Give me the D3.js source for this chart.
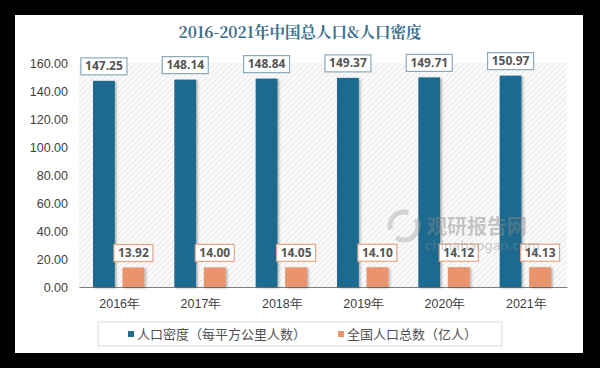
<!DOCTYPE html>
<html>
<head>
<meta charset="utf-8">
<script src="https://cdn.jsdelivr.net/npm/d3@7"></script>
<style>
  body { margin: 0; background: #000; }
  svg { display: block; }
  .tick text { font-family: 'Liberation Sans', 'Noto Sans', sans-serif; fill: #404040; }
</style>
</head>
<body>
<svg width="600" height="368"></svg>
<script>
const years = ['2016年', '2017年', '2018年', '2019年', '2020年', '2021年'];
const density = [147.25, 148.14, 148.84, 149.37, 149.71, 150.97];
const population = [13.92, 14.00, 14.05, 14.10, 14.12, 14.13];
const yTicks = [0, 20, 40, 60, 80, 100, 120, 140, 160];
const seriesNames = ['人口密度（每平方公里人数）', '全国人口总数（亿人）'];

const svg = d3.select('svg');
const width = +svg.attr('width');
const height = +svg.attr('height');

const blue = '#1f6b8f';
const orange = '#e9946c';

// white panel
svg.append('rect')
    .attr('x', 15).attr('y', 15)
    .attr('width', 568).attr('height', 338)
    .attr('fill', '#fff');

const defs = svg.append('defs');
const pat = defs.append('pattern')
    .attr('id', 'hatch')
    .attr('patternUnits', 'userSpaceOnUse')
    .attr('width', 4).attr('height', 4)
    .attr('patternTransform', 'rotate(45)');
pat.append('rect').attr('width', 4).attr('height', 4).attr('fill', '#fafafa');
pat.append('line').attr('x1', 0).attr('y1', 0).attr('x2', 0).attr('y2', 4)
    .attr('stroke', '#dedede').attr('stroke-width', 1.2);

const shadow = defs.append('filter').attr('id', 'shadow')
    .attr('x', '-30%').attr('y', '-10%').attr('width', '160%').attr('height', '130%');
shadow.append('feDropShadow')
    .attr('dx', 1.5).attr('dy', 1).attr('stdDeviation', 1.2)
    .attr('flood-color', '#000').attr('flood-opacity', 0.3);

const margin = { top: 63, left: 79, right: 33, bottom: 81 };
const innerWidth = width - margin.left - margin.right;
const innerHeight = height - margin.top - margin.bottom;

const g = svg.append('g')
    .attr('transform', `translate(${margin.left}, ${margin.top})`);

g.append('rect')
    .attr('width', innerWidth).attr('height', innerHeight)
    .attr('fill', 'url(#hatch)');

const xScale = d3.scaleBand()
    .domain(years)
    .range([0, innerWidth]);

const yScale = d3.scaleLinear()
    .domain([0, 160])
    .range([innerHeight, 0]);

const inner = d3.scaleBand()
    .domain([0, 1])
    .range([14, xScale.bandwidth() - 16])
    .paddingInner(0.26);

// y axis
const yAxisG = g.append('g')
    .call(d3.axisLeft(yScale).tickValues(yTicks).tickFormat(d3.format('.2f')).tickSize(0).tickPadding(11));
yAxisG.select('.domain').remove();
yAxisG.selectAll('text').attr('font-size', 12.5);

// x axis
const xAxisG = g.append('g')
    .attr('transform', `translate(0, ${innerHeight})`)
    .call(d3.axisBottom(xScale).tickSize(0).tickPadding(12));
xAxisG.select('.domain').attr('stroke', '#7f7f7f').attr('stroke-width', 1.2);
xAxisG.selectAll('text').attr('font-size', 12.5)
    .attr('font-family', "'Liberation Sans', 'Noto Sans CJK SC', sans-serif");

// watermark
const wm = svg.append('g').attr('opacity', 0.45);
wm.append('circle').attr('cx', 404).attr('cy', 226).attr('r', 14)
    .attr('fill', 'none').attr('stroke', '#aaa').attr('stroke-width', 5)
    .attr('stroke-dasharray', '30 10');
wm.append('text').attr('x', 427).attr('y', 234)
    .attr('font-size', 20).attr('font-weight', 'bold')
    .attr('font-family', "'Noto Sans CJK SC', sans-serif")
    .attr('fill', '#8a8a8a').text('观研报告网');
wm.append('text').attr('x', 425).attr('y', 250)
    .attr('font-size', 13)
    .attr('font-family', "'DejaVu Sans', sans-serif")
    .attr('fill', '#8a8a8a').text('chinabaogao.com');

const series = [
    { values: density, color: blue, border: '#8aa9bb' },
    { values: population, color: orange, border: '#e3a585' }
];

series.forEach((s, i) => {
    const grp = g.append('g');
    grp.selectAll('rect')
        .data(s.values)
        .enter()
        .append('rect')
        .attr('x', (d, j) => xScale(years[j]) + inner(i))
        .attr('y', d => yScale(d))
        .attr('width', inner.bandwidth())
        .attr('height', d => innerHeight - yScale(d))
        .attr('fill', s.color)
        .attr('filter', 'url(#shadow)');

    const lab = grp.selectAll('g.lab')
        .data(s.values)
        .enter()
        .append('g')
        .attr('class', 'lab')
        .attr('transform', (d, j) =>
            `translate(${xScale(years[j]) + inner(i) + inner.bandwidth() / 2}, ${yScale(d) - 15})`);
    const bw = i === 0 ? 46 : 39;
    lab.append('rect')
        .attr('x', -bw / 2).attr('y', -8)
        .attr('width', bw).attr('height', 17)
        .attr('fill', '#fff')
        .attr('stroke', s.border).attr('stroke-width', 1.2);
    lab.append('text')
        .attr('text-anchor', 'middle')
        .attr('dy', '0.36em')
        .attr('font-size', 12)
        .attr('font-weight', 'bold')
        .attr('font-family', "'Open Sans', 'Liberation Sans', sans-serif")
        .attr('fill', '#555')
        .text(d => d.toFixed(2));
});

// title
svg.append('text')
    .attr('x', 300).attr('y', 38)
    .attr('text-anchor', 'middle')
    .attr('font-size', 15.5)
    .attr('font-weight', 'bold')
    .attr('font-family', "'Noto Serif CJK SC', 'DejaVu Serif', 'Liberation Serif', 'Noto Sans CJK SC', serif")
    .attr('fill', '#3b6e8c')
    .text('2016-2021年中国总人口&人口密度');

// legend
svg.append('rect')
    .attr('x', 98).attr('y', 322)
    .attr('width', 404).attr('height', 24)
    .attr('fill', '#fff')
    .attr('stroke', '#d9d9d9');

const legendX = [128, 338];
seriesNames.forEach((name, i) => {
    svg.append('rect')
        .attr('x', legendX[i]).attr('y', 331)
        .attr('width', 6).attr('height', 6)
        .attr('fill', series[i].color);
    svg.append('text')
        .attr('x', legendX[i] + 9).attr('y', 339)
        .attr('font-size', 13)
        .attr('font-family', "'Noto Sans CJK SC', sans-serif")
        .attr('fill', '#505050')
        .text(name);
});
</script>
</body>
</html>
